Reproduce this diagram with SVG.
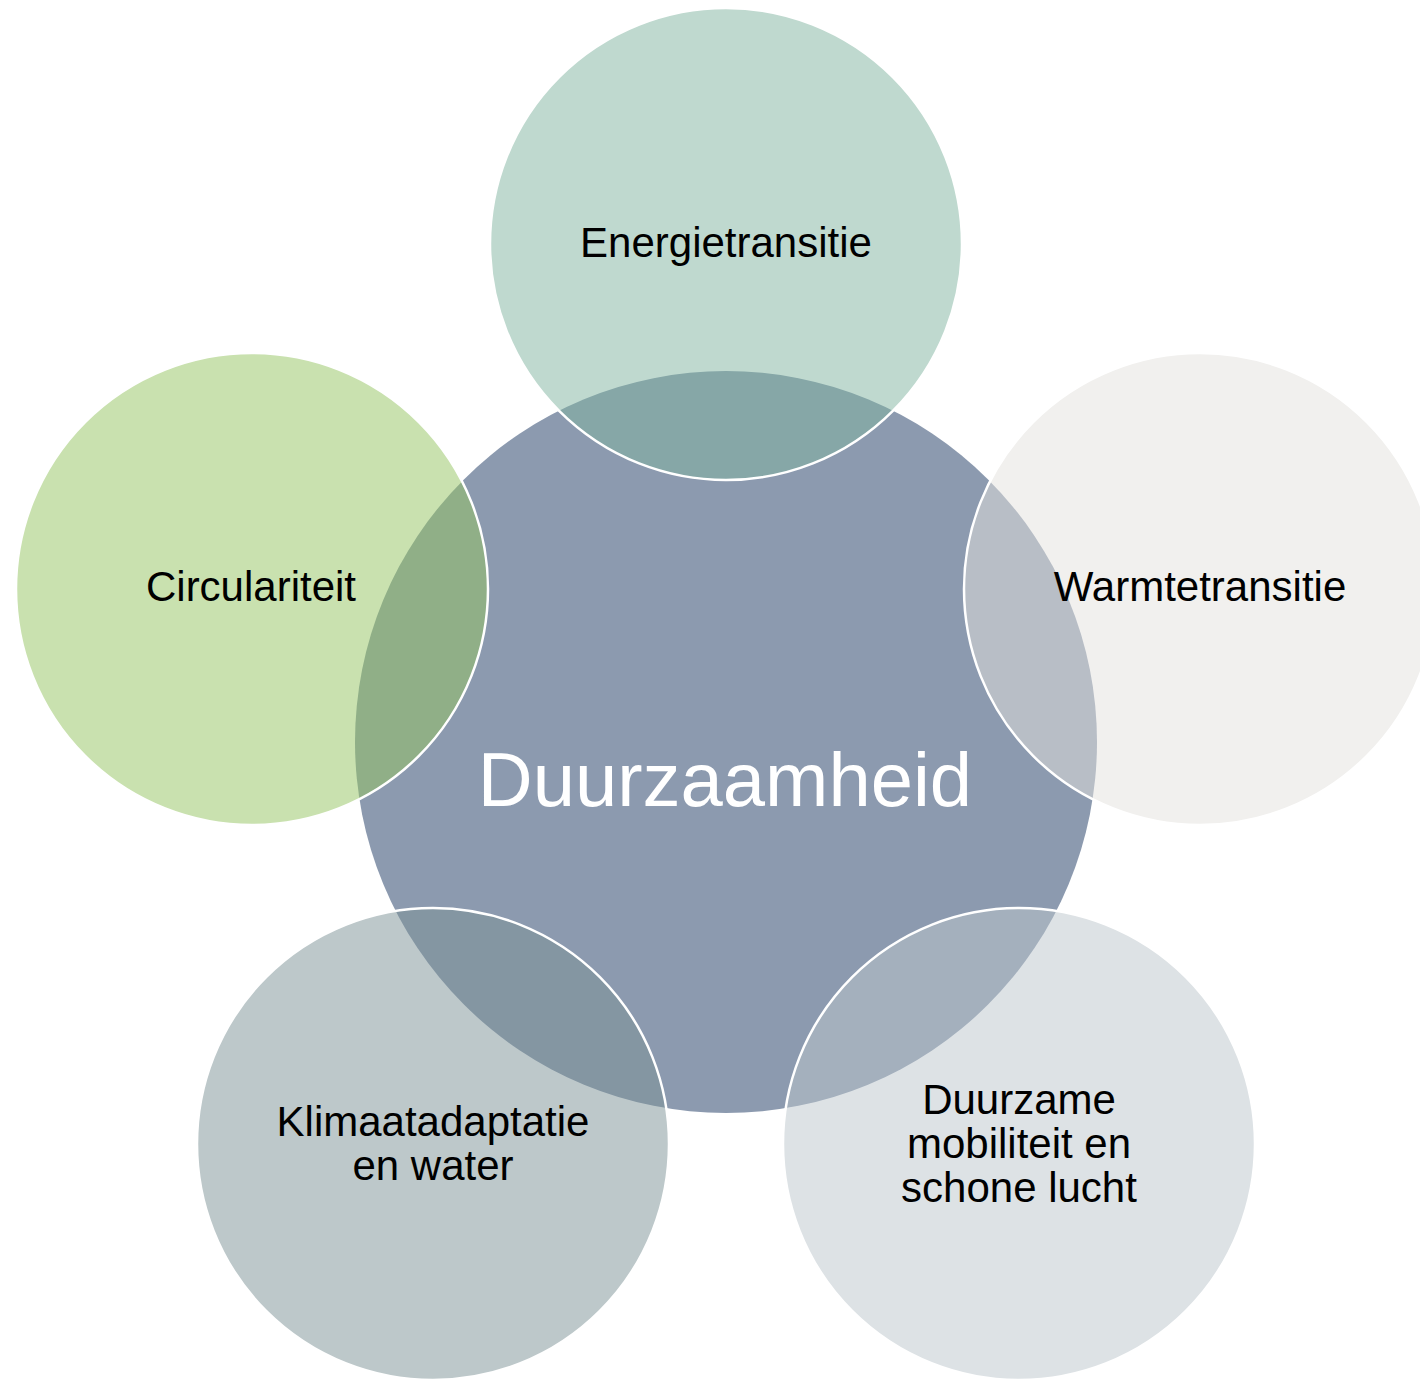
<svg xmlns="http://www.w3.org/2000/svg" width="1420" height="1380" viewBox="0 0 1420 1380">
<style>
.bg{fill:#ffffff}
.outer{stroke:#ffffff;stroke-width:2.5;fill-opacity:0.5}
.lbl{font-family:"Liberation Sans",Arial,Helvetica,sans-serif;font-size:42px;fill:#000000;text-anchor:middle}
.main{font-family:"Liberation Sans",Arial,Helvetica,sans-serif;font-size:76px;fill:#ffffff;text-anchor:middle}
</style>
<rect class="bg" x="0" y="0" width="1420" height="1380"/>
<g id="connectors"></g>
<g id="center">
<circle cx="726" cy="742" r="371" fill="#8C9AAF"/>
</g>
<g id="energietransitie">
<circle class="outer" cx="726" cy="244" r="236" fill="#7FB39F"/>
<text class="lbl" x="726" y="257">Energietransitie</text>
</g>
<g id="warmtetransitie">
<circle class="outer" cx="1200" cy="589" r="236" fill="#E3E1DD"/>
<text class="lbl" x="1200" y="601">Warmtetransitie</text>
</g>
<g id="mobiliteit">
<circle class="outer" cx="1019" cy="1144" r="236" fill="#BBC5CB"/>
<text class="lbl" x="1019" y="1114">Duurzame</text>
<text class="lbl" x="1019" y="1158">mobiliteit en</text>
<text class="lbl" x="1019" y="1202">schone lucht</text>
</g>
<g id="klimaat">
<circle class="outer" cx="433" cy="1144" r="236" fill="#7B9195"/>
<text class="lbl" x="433" y="1136">Klimaatadaptatie</text>
<text class="lbl" x="433" y="1180">en water</text>
</g>
<g id="circulariteit">
<circle class="outer" cx="252" cy="589" r="236" fill="#93C35F"/>
<text class="lbl" x="251" y="601">Circulariteit</text>
</g>
<g id="label-center">
<text class="main" x="725" y="806">Duurzaamheid</text>
</g>
</svg>
